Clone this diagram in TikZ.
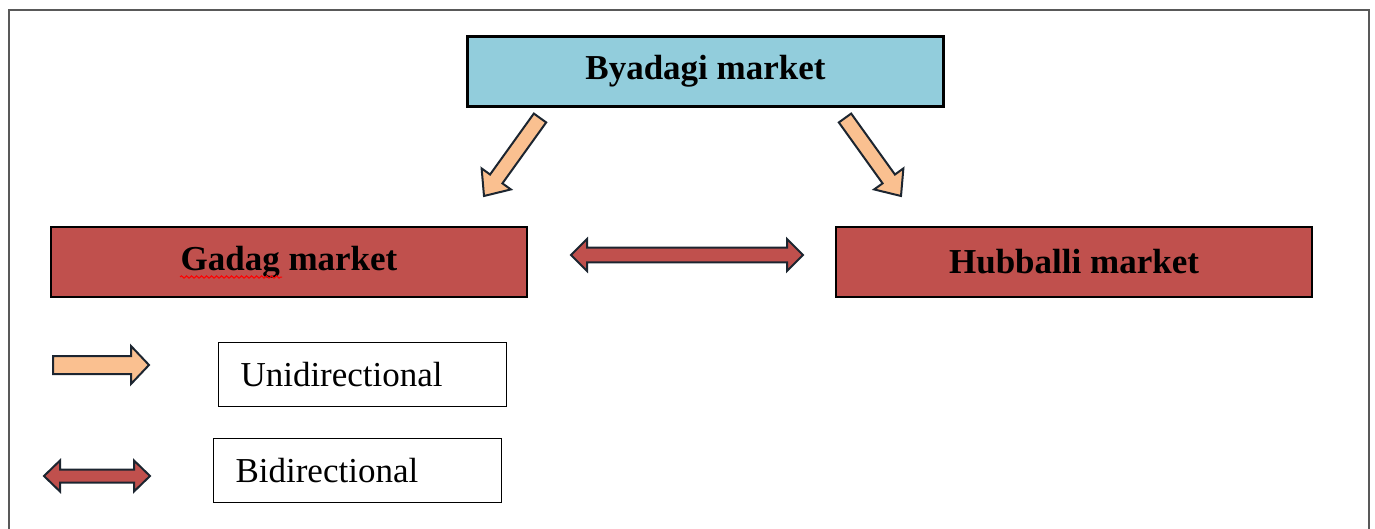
\documentclass[tikz,border=0pt]{standalone}
\usepackage{fontspec}
\setmainfont{Liberation Serif}
\usepackage{tikz}
\usepackage{xcolor}
\usetikzlibrary{calc, positioning, decorations.pathmorphing}

\definecolor{byblue}{HTML}{92CDDC}
\definecolor{mktred}{HTML}{C0504D}
\definecolor{peach}{HTML}{FAC090}
\definecolor{inkline}{HTML}{1C2530}

\tikzset{
    market/.style={draw=black, line width=2.5pt, minimum width=476pt, minimum height=70pt, inner sep=0pt, font=\fontsize{35}{40}\selectfont\bfseries},
    legendbox/.style={draw=black, line width=1pt, text width=244pt, align=left, inner xsep=22pt, minimum height=64pt, font=\fontsize{35}{40}\selectfont},
    blockarrow/.style={draw=inkline, line width=2pt, line join=miter}
}

% #1 style, #2 from, #3 to, #4 shaft half width, #5 head half width, #6 head length
\newcommand{\uniarrow}[6]{%
    \coordinate (ua) at (#2);
    \coordinate (ub) at (#3);
    \coordinate (uh) at ($(ub)!#6!(ua)$);
    \filldraw[#1] ($(ua)!#4!90:(ub)$) -- ($(uh)!#4!90:(ub)$) -- ($(uh)!#5!90:(ub)$) -- (ub)
        -- ($(uh)!#5!-90:(ub)$) -- ($(uh)!#4!-90:(ub)$) -- ($(ua)!#4!-90:(ub)$) -- cycle;}
\newcommand{\biarrow}[6]{%
    \coordinate (ua) at (#2);
    \coordinate (ub) at (#3);
    \coordinate (uh) at ($(ub)!#6!(ua)$);
    \coordinate (ug) at ($(ua)!#6!(ub)$);
    \filldraw[#1] (ua) -- ($(ug)!#5!90:(ub)$) -- ($(ug)!#4!90:(ub)$) -- ($(uh)!#4!90:(ub)$) -- ($(uh)!#5!90:(ub)$) -- (ub)
        -- ($(uh)!#5!-90:(ub)$) -- ($(uh)!#4!-90:(ub)$) -- ($(ug)!#4!-90:(ub)$) -- ($(ug)!#5!-90:(ub)$) -- cycle;}

\begin{document}
\begin{tikzpicture}[x=1pt, y=-1pt]
        \useasboundingbox (0, 0) rectangle (1375, 529);
        \draw[gray!70!black, line width=1.5pt] (9, 529) -- (9, 10) -- (1369, 10) -- (1369, 529);

        \node[market, fill=byblue] (byadagi) at (705.5, 71.5) {Byadagi market};
        \node[market, fill=mktred] (gadag) at (289, 262) {Gadag market};
        \node[market, fill=mktred] (hubballi) at (1074, 262) {Hubballi market};

        \node[legendbox] (uni) at (362.5, 374.5) {Unidirectional};
        \node[legendbox] (bi) at (357.5, 470.5) {Bidirectional};

        \coordinate (bg1) at (540, 118);
        \coordinate (bg2) at (484, 196);
        \coordinate (bh1) at (845, 118);
        \coordinate (bh2) at (901, 196);
        \coordinate (gh1) at (571, 255);
        \coordinate (gh2) at (803, 255);
        \coordinate (lu1) at (53, 365);
        \coordinate (lu2) at (149, 365);
        \coordinate (lb1) at (44, 476);
        \coordinate (lb2) at (150, 476);

        \uniarrow{blockarrow, fill=peach}{bg1}{bg2}{7.6pt}{18pt}{21pt}
        \uniarrow{blockarrow, fill=peach}{bh1}{bh2}{7.6pt}{18pt}{21pt}
        \biarrow{blockarrow, fill=mktred}{gh1}{gh2}{7.3pt}{16pt}{16pt}
        \uniarrow{blockarrow, fill=peach}{lu1}{lu2}{9pt}{19pt}{18pt}
        \biarrow{blockarrow, fill=mktred}{lb1}{lb2}{6.5pt}{15.5pt}{16pt}

        \draw[red, line width=1pt, decorate, decoration={snake, amplitude=1.2pt, segment length=5pt}] (180, 277) -- (282, 277);
    \end{tikzpicture}
\end{document}
